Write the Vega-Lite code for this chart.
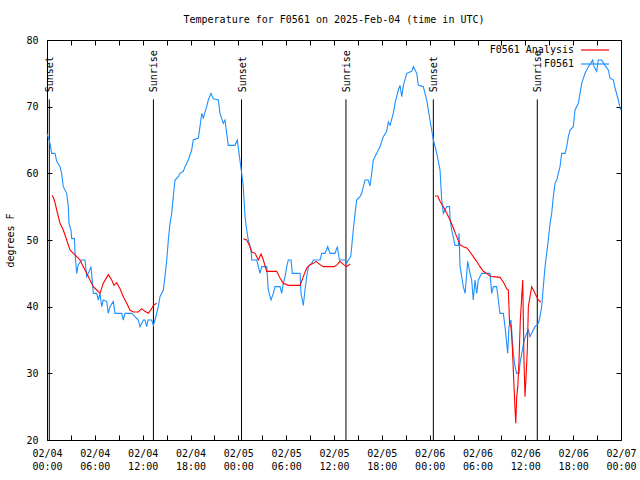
{
  "$schema": "https://vega.github.io/schema/vega-lite/v6.json",
  "width": 574,
  "height": 400,
  "autosize": "none",
  "padding": {"left": 47, "top": 40, "right": 19, "bottom": 40},
  "background": "white",
  "title": {"text": "Temperature for F0561 on 2025-Feb-04 (time in UTC)", "font": "DejaVu Sans Mono", "fontSize": 10, "fontWeight": "normal", "color": "black", "anchor": "middle", "offset": 10},
  "config": {
    "view": {"stroke": null},
    "axis": {"domainColor": "black", "tickColor": "black", "labelColor": "black", "titleColor": "black", "labelFont": "DejaVu Sans Mono", "titleFont": "DejaVu Sans Mono", "labelFontSize": 10, "titleFontSize": 10, "titleFontWeight": "normal", "grid": false, "tickSize": -5, "labelOverlap": false, "labelFlush": false, "labelBound": false},
    "legend": {"orient": "none", "legendX": 542, "legendY": 4, "symbolType": "M-2.8,0H2.8", "symbolSize": 100, "symbolStrokeWidth": 1.2, "labelAlign": "right", "labelOffset": -27, "labelFont": "DejaVu Sans Mono", "labelFontSize": 10, "labelColor": "black", "padding": 0, "rowPadding": 3}
  },
  "datasets": {
    "temp": [
      {"t": 0.0, "v": 66, "series": "F0561", "seg": "b"},
      {"t": 0.38, "v": 64.5, "series": "F0561", "seg": "b"},
      {"t": 0.59, "v": 63, "series": "F0561", "seg": "b"},
      {"t": 1.0, "v": 63, "series": "F0561", "seg": "b"},
      {"t": 1.22, "v": 61.8, "series": "F0561", "seg": "b"},
      {"t": 1.63, "v": 61, "series": "F0561", "seg": "b"},
      {"t": 1.84, "v": 60, "series": "F0561", "seg": "b"},
      {"t": 2.04, "v": 58, "series": "F0561", "seg": "b"},
      {"t": 2.47, "v": 57, "series": "F0561", "seg": "b"},
      {"t": 2.67, "v": 55, "series": "F0561", "seg": "b"},
      {"t": 2.76, "v": 52.5, "series": "F0561", "seg": "b"},
      {"t": 3.01, "v": 51.5, "series": "F0561", "seg": "b"},
      {"t": 3.1, "v": 50.2, "series": "F0561", "seg": "b"},
      {"t": 3.45, "v": 50.2, "series": "F0561", "seg": "b"},
      {"t": 3.51, "v": 48, "series": "F0561", "seg": "b"},
      {"t": 3.73, "v": 45, "series": "F0561", "seg": "b"},
      {"t": 3.92, "v": 46.3, "series": "F0561", "seg": "b"},
      {"t": 4.35, "v": 47, "series": "F0561", "seg": "b"},
      {"t": 4.77, "v": 47, "series": "F0561", "seg": "b"},
      {"t": 4.98, "v": 44.5, "series": "F0561", "seg": "b"},
      {"t": 5.18, "v": 45, "series": "F0561", "seg": "b"},
      {"t": 5.52, "v": 46, "series": "F0561", "seg": "b"},
      {"t": 5.81, "v": 42, "series": "F0561", "seg": "b"},
      {"t": 6.23, "v": 42, "series": "F0561", "seg": "b"},
      {"t": 6.44, "v": 41, "series": "F0561", "seg": "b"},
      {"t": 6.65, "v": 42, "series": "F0561", "seg": "b"},
      {"t": 6.86, "v": 40, "series": "F0561", "seg": "b"},
      {"t": 7.06, "v": 41, "series": "F0561", "seg": "b"},
      {"t": 7.49, "v": 40.8, "series": "F0561", "seg": "b"},
      {"t": 7.69, "v": 39, "series": "F0561", "seg": "b"},
      {"t": 7.9, "v": 40, "series": "F0561", "seg": "b"},
      {"t": 8.32, "v": 40.8, "series": "F0561", "seg": "b"},
      {"t": 8.53, "v": 39, "series": "F0561", "seg": "b"},
      {"t": 9.37, "v": 39, "series": "F0561", "seg": "b"},
      {"t": 9.57, "v": 38, "series": "F0561", "seg": "b"},
      {"t": 9.78, "v": 39, "series": "F0561", "seg": "b"},
      {"t": 10.62, "v": 39, "series": "F0561", "seg": "b"},
      {"t": 11.04, "v": 38.5, "series": "F0561", "seg": "b"},
      {"t": 11.45, "v": 38, "series": "F0561", "seg": "b"},
      {"t": 11.67, "v": 37, "series": "F0561", "seg": "b"},
      {"t": 12.08, "v": 38, "series": "F0561", "seg": "b"},
      {"t": 12.29, "v": 38, "series": "F0561", "seg": "b"},
      {"t": 12.51, "v": 37, "series": "F0561", "seg": "b"},
      {"t": 12.67, "v": 38, "series": "F0561", "seg": "b"},
      {"t": 13.13, "v": 38, "series": "F0561", "seg": "b"},
      {"t": 13.34, "v": 37.2, "series": "F0561", "seg": "b"},
      {"t": 13.55, "v": 38, "series": "F0561", "seg": "b"},
      {"t": 13.96, "v": 40, "series": "F0561", "seg": "b"},
      {"t": 14.17, "v": 41.5, "series": "F0561", "seg": "b"},
      {"t": 14.59, "v": 42.5, "series": "F0561", "seg": "b"},
      {"t": 14.8, "v": 44.5, "series": "F0561", "seg": "b"},
      {"t": 15.02, "v": 47, "series": "F0561", "seg": "b"},
      {"t": 15.22, "v": 50, "series": "F0561", "seg": "b"},
      {"t": 15.43, "v": 52.5, "series": "F0561", "seg": "b"},
      {"t": 15.64, "v": 54, "series": "F0561", "seg": "b"},
      {"t": 15.84, "v": 56.5, "series": "F0561", "seg": "b"},
      {"t": 16.06, "v": 59, "series": "F0561", "seg": "b"},
      {"t": 16.47, "v": 59.5, "series": "F0561", "seg": "b"},
      {"t": 16.68, "v": 60, "series": "F0561", "seg": "b"},
      {"t": 17.1, "v": 60.3, "series": "F0561", "seg": "b"},
      {"t": 17.31, "v": 61, "series": "F0561", "seg": "b"},
      {"t": 17.72, "v": 62, "series": "F0561", "seg": "b"},
      {"t": 18.15, "v": 63.5, "series": "F0561", "seg": "b"},
      {"t": 18.35, "v": 65, "series": "F0561", "seg": "b"},
      {"t": 18.98, "v": 65.3, "series": "F0561", "seg": "b"},
      {"t": 19.19, "v": 67, "series": "F0561", "seg": "b"},
      {"t": 19.41, "v": 69, "series": "F0561", "seg": "b"},
      {"t": 19.61, "v": 68.3, "series": "F0561", "seg": "b"},
      {"t": 20.03, "v": 70, "series": "F0561", "seg": "b"},
      {"t": 20.23, "v": 71, "series": "F0561", "seg": "b"},
      {"t": 20.57, "v": 72, "series": "F0561", "seg": "b"},
      {"t": 20.86, "v": 71.2, "series": "F0561", "seg": "b"},
      {"t": 21.49, "v": 71, "series": "F0561", "seg": "b"},
      {"t": 21.7, "v": 69, "series": "F0561", "seg": "b"},
      {"t": 22.12, "v": 67.5, "series": "F0561", "seg": "b"},
      {"t": 22.33, "v": 68, "series": "F0561", "seg": "b"},
      {"t": 22.54, "v": 66, "series": "F0561", "seg": "b"},
      {"t": 22.74, "v": 64.2, "series": "F0561", "seg": "b"},
      {"t": 23.58, "v": 64.2, "series": "F0561", "seg": "b"},
      {"t": 23.87, "v": 65, "series": "F0561", "seg": "b"},
      {"t": 24.12, "v": 62.7, "series": "F0561", "seg": "b"},
      {"t": 24.42, "v": 60, "series": "F0561", "seg": "b"},
      {"t": 24.62, "v": 58, "series": "F0561", "seg": "b"},
      {"t": 24.84, "v": 53.5, "series": "F0561", "seg": "b"},
      {"t": 25.05, "v": 51.5, "series": "F0561", "seg": "b"},
      {"t": 25.25, "v": 50, "series": "F0561", "seg": "b"},
      {"t": 25.59, "v": 48.5, "series": "F0561", "seg": "b"},
      {"t": 25.68, "v": 47, "series": "F0561", "seg": "b"},
      {"t": 26.31, "v": 47, "series": "F0561", "seg": "b"},
      {"t": 26.51, "v": 46, "series": "F0561", "seg": "b"},
      {"t": 26.72, "v": 45, "series": "F0561", "seg": "b"},
      {"t": 26.93, "v": 46, "series": "F0561", "seg": "b"},
      {"t": 27.56, "v": 46, "series": "F0561", "seg": "b"},
      {"t": 27.76, "v": 42.5, "series": "F0561", "seg": "b"},
      {"t": 28.1, "v": 41, "series": "F0561", "seg": "b"},
      {"t": 28.39, "v": 42, "series": "F0561", "seg": "b"},
      {"t": 28.6, "v": 43, "series": "F0561", "seg": "b"},
      {"t": 29.23, "v": 43, "series": "F0561", "seg": "b"},
      {"t": 29.44, "v": 42, "series": "F0561", "seg": "b"},
      {"t": 29.64, "v": 43.5, "series": "F0561", "seg": "b"},
      {"t": 29.86, "v": 44.5, "series": "F0561", "seg": "b"},
      {"t": 30.07, "v": 46, "series": "F0561", "seg": "b"},
      {"t": 30.27, "v": 47, "series": "F0561", "seg": "b"},
      {"t": 30.61, "v": 47, "series": "F0561", "seg": "b"},
      {"t": 30.77, "v": 45, "series": "F0561", "seg": "b"},
      {"t": 31.74, "v": 45, "series": "F0561", "seg": "b"},
      {"t": 31.86, "v": 42, "series": "F0561", "seg": "b"},
      {"t": 32.15, "v": 40.2, "series": "F0561", "seg": "b"},
      {"t": 32.36, "v": 42.5, "series": "F0561", "seg": "b"},
      {"t": 32.58, "v": 44.5, "series": "F0561", "seg": "b"},
      {"t": 32.78, "v": 46, "series": "F0561", "seg": "b"},
      {"t": 33.2, "v": 46.5, "series": "F0561", "seg": "b"},
      {"t": 33.41, "v": 47, "series": "F0561", "seg": "b"},
      {"t": 34.25, "v": 47, "series": "F0561", "seg": "b"},
      {"t": 34.46, "v": 48, "series": "F0561", "seg": "b"},
      {"t": 34.87, "v": 48, "series": "F0561", "seg": "b"},
      {"t": 35.21, "v": 49, "series": "F0561", "seg": "b"},
      {"t": 35.5, "v": 48, "series": "F0561", "seg": "b"},
      {"t": 36.13, "v": 48, "series": "F0561", "seg": "b"},
      {"t": 36.42, "v": 49, "series": "F0561", "seg": "b"},
      {"t": 36.68, "v": 47, "series": "F0561", "seg": "b"},
      {"t": 37.38, "v": 47, "series": "F0561", "seg": "b"},
      {"t": 37.59, "v": 46.5, "series": "F0561", "seg": "b"},
      {"t": 37.8, "v": 47, "series": "F0561", "seg": "b"},
      {"t": 38.1, "v": 47.5, "series": "F0561", "seg": "b"},
      {"t": 38.22, "v": 49, "series": "F0561", "seg": "b"},
      {"t": 38.42, "v": 51.5, "series": "F0561", "seg": "b"},
      {"t": 38.64, "v": 54, "series": "F0561", "seg": "b"},
      {"t": 38.85, "v": 56, "series": "F0561", "seg": "b"},
      {"t": 39.26, "v": 56.5, "series": "F0561", "seg": "b"},
      {"t": 39.47, "v": 57, "series": "F0561", "seg": "b"},
      {"t": 39.89, "v": 59, "series": "F0561", "seg": "b"},
      {"t": 40.3, "v": 59, "series": "F0561", "seg": "b"},
      {"t": 40.52, "v": 58.1, "series": "F0561", "seg": "b"},
      {"t": 40.73, "v": 60, "series": "F0561", "seg": "b"},
      {"t": 40.93, "v": 62, "series": "F0561", "seg": "b"},
      {"t": 41.36, "v": 63, "series": "F0561", "seg": "b"},
      {"t": 41.77, "v": 64, "series": "F0561", "seg": "b"},
      {"t": 42.19, "v": 65.5, "series": "F0561", "seg": "b"},
      {"t": 42.61, "v": 66.3, "series": "F0561", "seg": "b"},
      {"t": 42.81, "v": 67.7, "series": "F0561", "seg": "b"},
      {"t": 43.03, "v": 67.2, "series": "F0561", "seg": "b"},
      {"t": 43.44, "v": 69, "series": "F0561", "seg": "b"},
      {"t": 43.65, "v": 70.5, "series": "F0561", "seg": "b"},
      {"t": 44.07, "v": 72.5, "series": "F0561", "seg": "b"},
      {"t": 44.28, "v": 73.2, "series": "F0561", "seg": "b"},
      {"t": 44.5, "v": 71.5, "series": "F0561", "seg": "b"},
      {"t": 44.7, "v": 73.2, "series": "F0561", "seg": "b"},
      {"t": 45.12, "v": 75, "series": "F0561", "seg": "b"},
      {"t": 45.75, "v": 75.3, "series": "F0561", "seg": "b"},
      {"t": 45.96, "v": 76, "series": "F0561", "seg": "b"},
      {"t": 46.38, "v": 75, "series": "F0561", "seg": "b"},
      {"t": 46.58, "v": 73.2, "series": "F0561", "seg": "b"},
      {"t": 47.2, "v": 73, "series": "F0561", "seg": "b"},
      {"t": 47.63, "v": 71, "series": "F0561", "seg": "b"},
      {"t": 47.83, "v": 69.5, "series": "F0561", "seg": "b"},
      {"t": 48.04, "v": 68, "series": "F0561", "seg": "b"},
      {"t": 48.46, "v": 65, "series": "F0561", "seg": "b"},
      {"t": 48.89, "v": 63, "series": "F0561", "seg": "b"},
      {"t": 49.3, "v": 60.5, "series": "F0561", "seg": "b"},
      {"t": 49.51, "v": 56, "series": "F0561", "seg": "b"},
      {"t": 49.71, "v": 54, "series": "F0561", "seg": "b"},
      {"t": 50.14, "v": 55, "series": "F0561", "seg": "b"},
      {"t": 50.5, "v": 55, "series": "F0561", "seg": "b"},
      {"t": 50.56, "v": 53, "series": "F0561", "seg": "b"},
      {"t": 50.77, "v": 51.5, "series": "F0561", "seg": "b"},
      {"t": 51.18, "v": 49.2, "series": "F0561", "seg": "b"},
      {"t": 51.6, "v": 49.2, "series": "F0561", "seg": "b"},
      {"t": 51.68, "v": 51, "series": "F0561", "seg": "b"},
      {"t": 51.81, "v": 46, "series": "F0561", "seg": "b"},
      {"t": 52.02, "v": 44.5, "series": "F0561", "seg": "b"},
      {"t": 52.22, "v": 43, "series": "F0561", "seg": "b"},
      {"t": 52.44, "v": 42, "series": "F0561", "seg": "b"},
      {"t": 52.65, "v": 45, "series": "F0561", "seg": "b"},
      {"t": 52.77, "v": 46.8, "series": "F0561", "seg": "b"},
      {"t": 52.97, "v": 45.5, "series": "F0561", "seg": "b"},
      {"t": 53.27, "v": 44, "series": "F0561", "seg": "b"},
      {"t": 53.47, "v": 41, "series": "F0561", "seg": "b"},
      {"t": 53.69, "v": 44, "series": "F0561", "seg": "b"},
      {"t": 53.9, "v": 42, "series": "F0561", "seg": "b"},
      {"t": 54.1, "v": 44, "series": "F0561", "seg": "b"},
      {"t": 54.31, "v": 44.5, "series": "F0561", "seg": "b"},
      {"t": 54.53, "v": 45, "series": "F0561", "seg": "b"},
      {"t": 55.57, "v": 45, "series": "F0561", "seg": "b"},
      {"t": 55.78, "v": 42, "series": "F0561", "seg": "b"},
      {"t": 55.98, "v": 43, "series": "F0561", "seg": "b"},
      {"t": 56.41, "v": 43, "series": "F0561", "seg": "b"},
      {"t": 56.61, "v": 41, "series": "F0561", "seg": "b"},
      {"t": 56.82, "v": 39, "series": "F0561", "seg": "b"},
      {"t": 57.24, "v": 39, "series": "F0561", "seg": "b"},
      {"t": 57.45, "v": 37, "series": "F0561", "seg": "b"},
      {"t": 57.66, "v": 34.5, "series": "F0561", "seg": "b"},
      {"t": 57.79, "v": 33, "series": "F0561", "seg": "b"},
      {"t": 57.95, "v": 37, "series": "F0561", "seg": "b"},
      {"t": 58.2, "v": 38, "series": "F0561", "seg": "b"},
      {"t": 58.37, "v": 35, "series": "F0561", "seg": "b"},
      {"t": 58.49, "v": 33, "series": "F0561", "seg": "b"},
      {"t": 58.71, "v": 31, "series": "F0561", "seg": "b"},
      {"t": 58.92, "v": 30, "series": "F0561", "seg": "b"},
      {"t": 59.21, "v": 30, "series": "F0561", "seg": "b"},
      {"t": 59.33, "v": 31.5, "series": "F0561", "seg": "b"},
      {"t": 59.55, "v": 33, "series": "F0561", "seg": "b"},
      {"t": 59.87, "v": 35, "series": "F0561", "seg": "b"},
      {"t": 60.17, "v": 36, "series": "F0561", "seg": "b"},
      {"t": 60.38, "v": 36.5, "series": "F0561", "seg": "b"},
      {"t": 60.59, "v": 35.5, "series": "F0561", "seg": "b"},
      {"t": 61.0, "v": 36.5, "series": "F0561", "seg": "b"},
      {"t": 61.22, "v": 37, "series": "F0561", "seg": "b"},
      {"t": 61.63, "v": 37.5, "series": "F0561", "seg": "b"},
      {"t": 61.84, "v": 38.5, "series": "F0561", "seg": "b"},
      {"t": 62.05, "v": 40, "series": "F0561", "seg": "b"},
      {"t": 62.26, "v": 43, "series": "F0561", "seg": "b"},
      {"t": 62.47, "v": 46, "series": "F0561", "seg": "b"},
      {"t": 62.68, "v": 48, "series": "F0561", "seg": "b"},
      {"t": 62.88, "v": 50, "series": "F0561", "seg": "b"},
      {"t": 63.1, "v": 52.5, "series": "F0561", "seg": "b"},
      {"t": 63.31, "v": 54, "series": "F0561", "seg": "b"},
      {"t": 63.51, "v": 56.5, "series": "F0561", "seg": "b"},
      {"t": 63.72, "v": 58.5, "series": "F0561", "seg": "b"},
      {"t": 63.94, "v": 59, "series": "F0561", "seg": "b"},
      {"t": 64.14, "v": 60, "series": "F0561", "seg": "b"},
      {"t": 64.35, "v": 61, "series": "F0561", "seg": "b"},
      {"t": 64.56, "v": 63, "series": "F0561", "seg": "b"},
      {"t": 64.98, "v": 63, "series": "F0561", "seg": "b"},
      {"t": 65.19, "v": 64, "series": "F0561", "seg": "b"},
      {"t": 65.4, "v": 65.5, "series": "F0561", "seg": "b"},
      {"t": 65.61, "v": 66.5, "series": "F0561", "seg": "b"},
      {"t": 66.02, "v": 67, "series": "F0561", "seg": "b"},
      {"t": 66.23, "v": 69.5, "series": "F0561", "seg": "b"},
      {"t": 66.65, "v": 70.5, "series": "F0561", "seg": "b"},
      {"t": 66.86, "v": 72, "series": "F0561", "seg": "b"},
      {"t": 67.07, "v": 73.5, "series": "F0561", "seg": "b"},
      {"t": 67.49, "v": 75, "series": "F0561", "seg": "b"},
      {"t": 67.9, "v": 76, "series": "F0561", "seg": "b"},
      {"t": 68.2, "v": 76.5, "series": "F0561", "seg": "b"},
      {"t": 68.45, "v": 77, "series": "F0561", "seg": "b"},
      {"t": 68.62, "v": 76, "series": "F0561", "seg": "b"},
      {"t": 68.95, "v": 75.3, "series": "F0561", "seg": "b"},
      {"t": 69.15, "v": 77, "series": "F0561", "seg": "b"},
      {"t": 69.58, "v": 77, "series": "F0561", "seg": "b"},
      {"t": 69.99, "v": 76.2, "series": "F0561", "seg": "b"},
      {"t": 70.41, "v": 75.5, "series": "F0561", "seg": "b"},
      {"t": 70.62, "v": 74.3, "series": "F0561", "seg": "b"},
      {"t": 71.04, "v": 74, "series": "F0561", "seg": "b"},
      {"t": 71.25, "v": 72.8, "series": "F0561", "seg": "b"},
      {"t": 71.67, "v": 71, "series": "F0561", "seg": "b"},
      {"t": 71.88, "v": 69.8, "series": "F0561", "seg": "b"},
      {"t": 72.0, "v": 69.5, "series": "F0561", "seg": "b"},

      {"t": 0.66, "v": 56.7, "series": "F0561 Analysis", "seg": "r1"},
      {"t": 0.92, "v": 56, "series": "F0561 Analysis", "seg": "r1"},
      {"t": 1.22, "v": 54.5, "series": "F0561 Analysis", "seg": "r1"},
      {"t": 1.63, "v": 52.5, "series": "F0561 Analysis", "seg": "r1"},
      {"t": 2.04, "v": 51.5, "series": "F0561 Analysis", "seg": "r1"},
      {"t": 2.47, "v": 50, "series": "F0561 Analysis", "seg": "r1"},
      {"t": 2.89, "v": 48.5, "series": "F0561 Analysis", "seg": "r1"},
      {"t": 3.3, "v": 48, "series": "F0561 Analysis", "seg": "r1"},
      {"t": 3.73, "v": 47.5, "series": "F0561 Analysis", "seg": "r1"},
      {"t": 4.14, "v": 47, "series": "F0561 Analysis", "seg": "r1"},
      {"t": 4.55, "v": 46, "series": "F0561 Analysis", "seg": "r1"},
      {"t": 4.98, "v": 45, "series": "F0561 Analysis", "seg": "r1"},
      {"t": 5.39, "v": 44, "series": "F0561 Analysis", "seg": "r1"},
      {"t": 5.81, "v": 43, "series": "F0561 Analysis", "seg": "r1"},
      {"t": 6.23, "v": 42.5, "series": "F0561 Analysis", "seg": "r1"},
      {"t": 6.65, "v": 42, "series": "F0561 Analysis", "seg": "r1"},
      {"t": 7.06, "v": 43.5, "series": "F0561 Analysis", "seg": "r1"},
      {"t": 7.69, "v": 44.8, "series": "F0561 Analysis", "seg": "r1"},
      {"t": 8.12, "v": 44, "series": "F0561 Analysis", "seg": "r1"},
      {"t": 8.4, "v": 43.2, "series": "F0561 Analysis", "seg": "r1"},
      {"t": 8.74, "v": 43.6, "series": "F0561 Analysis", "seg": "r1"},
      {"t": 9.16, "v": 42.7, "series": "F0561 Analysis", "seg": "r1"},
      {"t": 9.57, "v": 41.5, "series": "F0561 Analysis", "seg": "r1"},
      {"t": 10.0, "v": 40.5, "series": "F0561 Analysis", "seg": "r1"},
      {"t": 10.41, "v": 39.5, "series": "F0561 Analysis", "seg": "r1"},
      {"t": 10.83, "v": 39.2, "series": "F0561 Analysis", "seg": "r1"},
      {"t": 11.45, "v": 39.2, "series": "F0561 Analysis", "seg": "r1"},
      {"t": 11.88, "v": 39.7, "series": "F0561 Analysis", "seg": "r1"},
      {"t": 12.29, "v": 39.3, "series": "F0561 Analysis", "seg": "r1"},
      {"t": 12.71, "v": 39, "series": "F0561 Analysis", "seg": "r1"},
      {"t": 13.13, "v": 39.7, "series": "F0561 Analysis", "seg": "r1"},
      {"t": 13.34, "v": 40.2, "series": "F0561 Analysis", "seg": "r1"},
      {"t": 13.76, "v": 40.5, "series": "F0561 Analysis", "seg": "r1"},

      {"t": 24.62, "v": 50.2, "series": "F0561 Analysis", "seg": "r2"},
      {"t": 25.05, "v": 50, "series": "F0561 Analysis", "seg": "r2"},
      {"t": 25.46, "v": 49, "series": "F0561 Analysis", "seg": "r2"},
      {"t": 25.68, "v": 48.2, "series": "F0561 Analysis", "seg": "r2"},
      {"t": 26.1, "v": 48, "series": "F0561 Analysis", "seg": "r2"},
      {"t": 26.51, "v": 47, "series": "F0561 Analysis", "seg": "r2"},
      {"t": 26.85, "v": 47.9, "series": "F0561 Analysis", "seg": "r2"},
      {"t": 27.14, "v": 47, "series": "F0561 Analysis", "seg": "r2"},
      {"t": 27.56, "v": 45.3, "series": "F0561 Analysis", "seg": "r2"},
      {"t": 28.81, "v": 45.3, "series": "F0561 Analysis", "seg": "r2"},
      {"t": 29.23, "v": 44.3, "series": "F0561 Analysis", "seg": "r2"},
      {"t": 29.64, "v": 43.5, "series": "F0561 Analysis", "seg": "r2"},
      {"t": 30.27, "v": 43.2, "series": "F0561 Analysis", "seg": "r2"},
      {"t": 31.74, "v": 43.2, "series": "F0561 Analysis", "seg": "r2"},
      {"t": 32.15, "v": 44.5, "series": "F0561 Analysis", "seg": "r2"},
      {"t": 32.58, "v": 45.8, "series": "F0561 Analysis", "seg": "r2"},
      {"t": 32.99, "v": 46.3, "series": "F0561 Analysis", "seg": "r2"},
      {"t": 33.41, "v": 46.5, "series": "F0561 Analysis", "seg": "r2"},
      {"t": 33.74, "v": 46.8, "series": "F0561 Analysis", "seg": "r2"},
      {"t": 34.25, "v": 46.3, "series": "F0561 Analysis", "seg": "r2"},
      {"t": 34.66, "v": 46, "series": "F0561 Analysis", "seg": "r2"},
      {"t": 36.04, "v": 46, "series": "F0561 Analysis", "seg": "r2"},
      {"t": 36.4, "v": 46.3, "series": "F0561 Analysis", "seg": "r2"},
      {"t": 36.75, "v": 46.8, "series": "F0561 Analysis", "seg": "r2"},
      {"t": 37.2, "v": 46.3, "series": "F0561 Analysis", "seg": "r2"},
      {"t": 37.59, "v": 46.0, "series": "F0561 Analysis", "seg": "r2"},
      {"t": 38.01, "v": 46.4, "series": "F0561 Analysis", "seg": "r2"},

      {"t": 48.67, "v": 56.6, "series": "F0561 Analysis", "seg": "r3"},
      {"t": 49.01, "v": 56.6, "series": "F0561 Analysis", "seg": "r3"},
      {"t": 49.3, "v": 55.8, "series": "F0561 Analysis", "seg": "r3"},
      {"t": 49.71, "v": 55, "series": "F0561 Analysis", "seg": "r3"},
      {"t": 50.14, "v": 54, "series": "F0561 Analysis", "seg": "r3"},
      {"t": 50.56, "v": 53, "series": "F0561 Analysis", "seg": "r3"},
      {"t": 50.97, "v": 51.8, "series": "F0561 Analysis", "seg": "r3"},
      {"t": 51.39, "v": 50.5, "series": "F0561 Analysis", "seg": "r3"},
      {"t": 51.81, "v": 49.3, "series": "F0561 Analysis", "seg": "r3"},
      {"t": 52.22, "v": 49, "series": "F0561 Analysis", "seg": "r3"},
      {"t": 52.65, "v": 48.8, "series": "F0561 Analysis", "seg": "r3"},
      {"t": 53.06, "v": 48.2, "series": "F0561 Analysis", "seg": "r3"},
      {"t": 53.47, "v": 47.5, "series": "F0561 Analysis", "seg": "r3"},
      {"t": 53.9, "v": 46.8, "series": "F0561 Analysis", "seg": "r3"},
      {"t": 54.31, "v": 46, "series": "F0561 Analysis", "seg": "r3"},
      {"t": 54.72, "v": 45.3, "series": "F0561 Analysis", "seg": "r3"},
      {"t": 55.16, "v": 45, "series": "F0561 Analysis", "seg": "r3"},
      {"t": 55.57, "v": 44.6, "series": "F0561 Analysis", "seg": "r3"},
      {"t": 55.98, "v": 44.5, "series": "F0561 Analysis", "seg": "r3"},
      {"t": 56.82, "v": 44.4, "series": "F0561 Analysis", "seg": "r3"},
      {"t": 57.24, "v": 43.7, "series": "F0561 Analysis", "seg": "r3"},
      {"t": 57.66, "v": 42.7, "series": "F0561 Analysis", "seg": "r3"},
      {"t": 57.87, "v": 42.5, "series": "F0561 Analysis", "seg": "r3"},
      {"t": 58.02, "v": 37.5, "series": "F0561 Analysis", "seg": "r3"},
      {"t": 58.2, "v": 37, "series": "F0561 Analysis", "seg": "r3"},
      {"t": 58.37, "v": 34, "series": "F0561 Analysis", "seg": "r3"},
      {"t": 58.49, "v": 30.5, "series": "F0561 Analysis", "seg": "r3"},
      {"t": 58.62, "v": 27, "series": "F0561 Analysis", "seg": "r3"},
      {"t": 58.71, "v": 24.5, "series": "F0561 Analysis", "seg": "r3"},
      {"t": 58.8, "v": 22.5, "series": "F0561 Analysis", "seg": "r3"},
      {"t": 58.92, "v": 26.5, "series": "F0561 Analysis", "seg": "r3"},
      {"t": 59.05, "v": 28, "series": "F0561 Analysis", "seg": "r3"},
      {"t": 59.21, "v": 32, "series": "F0561 Analysis", "seg": "r3"},
      {"t": 59.37, "v": 38, "series": "F0561 Analysis", "seg": "r3"},
      {"t": 59.55, "v": 41.5, "series": "F0561 Analysis", "seg": "r3"},
      {"t": 59.67, "v": 44, "series": "F0561 Analysis", "seg": "r3"},
      {"t": 59.84, "v": 31.5, "series": "F0561 Analysis", "seg": "r3"},
      {"t": 59.96, "v": 26.5, "series": "F0561 Analysis", "seg": "r3"},
      {"t": 60.09, "v": 29.5, "series": "F0561 Analysis", "seg": "r3"},
      {"t": 60.25, "v": 33.5, "series": "F0561 Analysis", "seg": "r3"},
      {"t": 60.38, "v": 40, "series": "F0561 Analysis", "seg": "r3"},
      {"t": 60.8, "v": 43, "series": "F0561 Analysis", "seg": "r3"},
      {"t": 61.21, "v": 42, "series": "F0561 Analysis", "seg": "r3"},
      {"t": 61.63, "v": 41, "series": "F0561 Analysis", "seg": "r3"},
      {"t": 61.93, "v": 40.7, "series": "F0561 Analysis", "seg": "r3"}
    ],
    "sun": [
      {"t": 0.29, "label": "Sunset", "lo": 20, "hi": 71.1},
      {"t": 13.35, "label": "Sunrise", "lo": 20, "hi": 71.1},
      {"t": 24.4, "label": "Sunset", "lo": 20, "hi": 71.1},
      {"t": 37.5, "label": "Sunrise", "lo": 20, "hi": 71.1},
      {"t": 48.46, "label": "Sunset", "lo": 20, "hi": 71.1},
      {"t": 61.5, "label": "Sunrise", "lo": 20, "hi": 71.1}
    ]
  },
  "resolve": {"axis": {"x": "independent", "y": "independent"}},
  "layer": [
    {
      "data": {"name": "sun"},
      "mark": {"type": "rule", "color": "black", "strokeWidth": 1},
      "encoding": {
        "x": {"field": "t", "type": "quantitative", "scale": {"domain": [0, 72], "nice": false, "zero": false},
          "axis": {"orient": "bottom", "values": [0,3,6,9,12,15,18,21,24,27,30,33,36,39,42,45,48,51,54,57,60,63,66,69,72], "title": null, "labelBaseline": "top", "labelPadding": 13, "labelLineHeight": 13,
            "labelExpr": "datum.value % 6 == 0 ? ['02/0' + (4 + floor(datum.value / 24)), (datum.value % 24 < 10 ? '0' : '') + (datum.value % 24) + ':00'] : ''"}},
        "y": {"field": "lo", "type": "quantitative", "scale": {"domain": [20, 80], "nice": false, "zero": false},
          "axis": {"orient": "left", "values": [20,30,40,50,60,70,80], "title": "degrees F", "labelPadding": 14, "titlePadding": 10}},
        "y2": {"field": "hi"}
      }
    },
    {
      "data": {"name": "sun"},
      "mark": {"type": "text", "angle": 270, "align": "left", "baseline": "middle", "dx": 7, "dy": 1, "font": "DejaVu Sans Mono", "fontSize": 10, "color": "black"},
      "encoding": {
        "x": {"field": "t", "type": "quantitative", "axis": {"orient": "top", "values": [0,3,6,9,12,15,18,21,24,27,30,33,36,39,42,45,48,51,54,57,60,63,66,69,72], "labels": false, "title": null}},
        "y": {"field": "hi", "type": "quantitative", "axis": {"orient": "right", "values": [20,30,40,50,60,70,80], "labels": false, "title": null}},
        "text": {"field": "label"}
      }
    },
    {
      "data": {"name": "temp"},
      "mark": {"type": "line", "strokeWidth": 1.1},
      "encoding": {
        "x": {"field": "t", "type": "quantitative", "axis": null},
        "y": {"field": "v", "type": "quantitative", "axis": null},
        "color": {"field": "series", "type": "nominal", "scale": {"domain": ["F0561 Analysis", "F0561"], "range": ["#ff0000", "#1e90ff"]}, "legend": {"title": null}},
        "detail": {"field": "seg"},
        "order": {"field": "t", "type": "quantitative"}
      }
    }
  ]
}
